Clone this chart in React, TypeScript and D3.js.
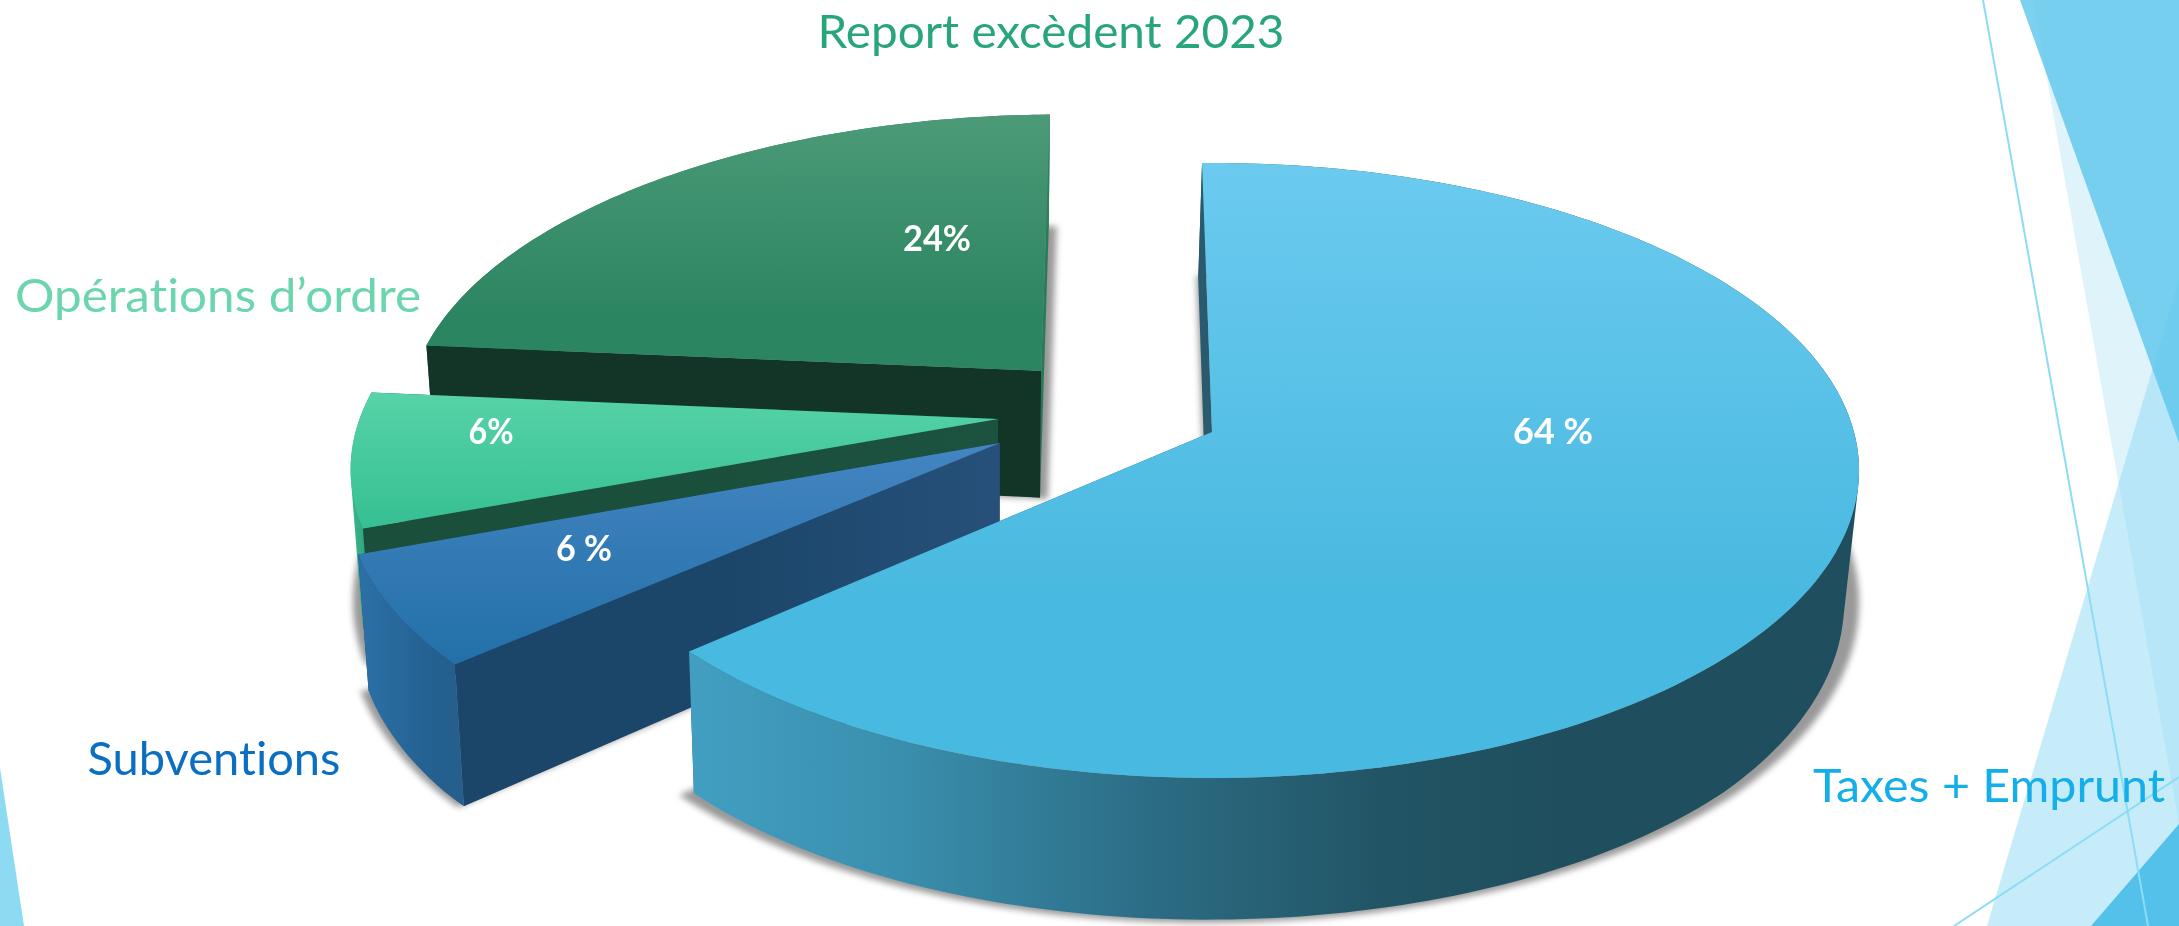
import * as d3 from "d3";

const categories = ["Taxes + Emprunt", "Subventions", "Opérations d’ordre", "Report excèdent 2023"];
const shares = [63.7, 5.9, 7.1, 23.3];
const valueLabels = ["64 %", "6 %", "6%", "24%"];

const width = 2179;
const height = 926;

// perspective of the pie plane
const origin = { x: 1212, y: 432 };
const radiusX = 642;
const radiusY = 302.7;
const persp = 0.125;
const depth = 130;
const shrink = 0.017;
const lowShift = -4;
const startDeg = -1;

// how far each slice is pulled out, in pie radii
const explode = [
    [0, 0],
    [-0.329, -0.036],
    [-0.335, 0.043],
    [-0.273, 0.207],
];

const topColors = [
    ["#6ccaef", "#48b9e0", 163, 600],
    ["#4485c2", "#2370a8", 443, 663],
    ["#56d3a7", "#35bf92", 394, 530],
    ["#4c9a78", "#2b8560", 114, 320],
] as const;
const wallStops = [0, 0.178, 0.39, 0.6, 0.78];
const wallColors = [
    ["#429fc2", "#3a8fae", "#2c6d85", "#215464", "#1f4e5e"],
    ["#2b70a6", "#2a6da2", "#28689a", "#256294", "#245f8d"],
    ["#38b88e", "#35b088", "#33a983", "#31a580", "#30a27e"],
    ["#2f7f5f", "#2f7f5f", "#2f7f5f", "#2f7f5f", "#2f7f5f"],
];
const sideColors = ["#2a5a6e", "#1b4669", "#1a4f3c", "#123527"];
const sideEndColors = ["#2a5a6e", "#27507a", "#1c5240", "#123527"];
const endWallColors = ["#1d5366", "#1b4669", "#1a4f3c", "#2a7a5a"];
const textColors = ["#14aee8", "#0a6fc2", "#6bd6ad", "#28a57c"];

const nameLayout = [
    { x: 1989, y: 802, w: 352, size: 47 },
    { x: 214, y: 775, w: 253, size: 47 },
    { x: 218, y: 312, w: 406, size: 47 },
    { x: 1051, y: 48, w: 467, size: 46 },
];
const valueLayout = [
    { x: 1553, y: 444, w: 80 },
    { x: 584, y: 561, w: 56 },
    { x: 491, y: 444, w: 45 },
    { x: 937, y: 251, w: 68 },
];

const pie = d3
    .pie<number>()
    .sort(null)
    .startAngle((startDeg * Math.PI) / 180)
    .endAngle((startDeg * Math.PI) / 180 + 2 * Math.PI);

type P = [number, number];

function project(u: number, v: number) {
    const s = 1 / (1 + persp * v);
    return { x: origin.x + radiusX * u * s, y: origin.y - radiusY * v * s, s };
}

function top(i: number, angle: number, r = 1): P {
    const [ex, ey] = explode[i];
    const p = project(ex + r * Math.sin(angle), ey + r * Math.cos(angle));
    return [p.x, p.y];
}

function bottom(i: number, angle: number, r = 1): P {
    const [ex, ey] = explode[i];
    const p = project(ex + r * Math.sin(angle), ey + r * Math.cos(angle));
    return [p.x - (p.x - origin.x) * shrink + lowShift, p.y + depth * Math.min(p.s, 1.09)];
}

const line = d3.line<P>();
const closed = (pts: P[]) => line(pts) + "Z";

function arcAngles(a: number, b: number) {
    const n = Math.ceil(Math.abs(b - a) / 0.02);
    const t = d3.scaleLinear().domain([0, n]).range([a, b]);
    return d3.range(n + 1).map((k) => t(k));
}

// the rim wall as strips, so the silhouette stays right where the two rims cross
function wallStrips(a: P[], b: P[]) {
    return d3
        .range(a.length - 1)
        .map((k) => {
            const quad: P[] = [a[k], a[k + 1], b[k + 1], b[k]];
            return closed(d3.polygonArea(quad) < 0 ? quad.reverse() : quad);
        })
        .join("");
}

export default function App() {
    const arcs = pie(shares);
    const order = [3, 2, 1, 0]; // back to front

    const faces = arcs.map((d, i) => {
        const angles = arcAngles(d.startAngle, d.endAngle);
        const topRim = angles.map((a) => top(i, a));
        const lowRim = angles.map((a) => bottom(i, a));
        const apex = top(i, 0, 0);
        const apexLow = bottom(i, 0, 0);
        const xs = d3.extent([...lowRim, apexLow], (p) => p[0]) as P;
        const ys = d3.extent([...lowRim, apexLow], (p) => p[1]) as P;
        return {
            face: closed([apex, ...topRim]),
            low: closed([apexLow, ...lowRim]),
            outer: wallStrips(topRim, lowRim),
            startWall: closed([apex, topRim[0], lowRim[0], apexLow]),
            endWall: closed([apex, topRim[topRim.length - 1], lowRim[lowRim.length - 1], apexLow]),
            box: [(xs[0] + xs[1]) / 2, (ys[0] + ys[1]) / 2],
        };
    });

    return (
        <svg
            width={width}
            height={height}
            viewBox={`0 0 ${width} ${height}`}
            style={{ position: "fixed", left: 0, top: 0, display: "block", background: "#fff" }}
        >
            <defs>
                <filter id="soft" x="-10%" y="-10%" width="120%" height="120%">
                    <feGaussianBlur stdDeviation="3" />
                </filter>
                {categories.map((_, i) => (
                    <g key={i}>
                        <linearGradient
                            id={`top${i}`}
                            gradientUnits="userSpaceOnUse"
                            x1="0"
                            x2="0"
                            y1={topColors[i][2]}
                            y2={topColors[i][3]}
                        >
                            <stop offset="0" stopColor={topColors[i][0]} />
                            <stop offset="1" stopColor={topColors[i][1]} />
                        </linearGradient>
                        <linearGradient
                            id={`wall${i}`}
                            gradientUnits="objectBoundingBox"
                            x1="0"
                            x2="1"
                            y1="0"
                            y2="0"
                        >
                            {wallColors[i].map((c, k) => (
                                <stop key={k} offset={wallStops[k]} stopColor={c} />
                            ))}
                        </linearGradient>
                        <linearGradient id={`side${i}`} gradientUnits="objectBoundingBox" x1="0" x2="1" y1="0" y2="0">
                            <stop offset="0.5" stopColor={sideColors[i]} />
                            <stop offset="1" stopColor={sideEndColors[i]} />
                        </linearGradient>
                    </g>
                ))}
            </defs>

            {/* slide decoration */}
            <g>
                <polygon points="0,768 24,926 0,926" fill="#8ddaf3" />
                <polygon points="2033,0 2179,0 2179,824" fill="#dff3fa" />
                <polygon points="1987,926 2179,280 2179,926" fill="#8ed9f3" fillOpacity="0.5" />
                <polygon points="2020,0 2179,0 2179,443" fill="#5cc5ec" fillOpacity="0.8" />
                <polygon points="2091,926 2179,824 2179,926" fill="#53c1ea" />
                <line x1="1983" y1="0" x2="2148" y2="926" stroke="#8ddcf5" strokeWidth="2" />
                <line x1="1954" y1="926" x2="2179" y2="777" stroke="#8ddcf5" strokeWidth="2" />
            </g>

            {/* shadows under the lower faces */}
            <g filter="url(#soft)">
                {order.map((i) => {
                    const [cx, cy] = faces[i].box;
                    return (
                        <path
                            key={i}
                            d={faces[i].low}
                            fill="#000"
                            fillOpacity="0.4"
                            transform={`translate(${cx},${cy}) scale(1.026,1.01) translate(${-cx},${-cy})`}
                        />
                    );
                })}
            </g>

            {order.map((i) => (
                <g key={i}>
                    <path d={faces[i].endWall} fill={endWallColors[i]} />
                    <path d={faces[i].outer} fill={`url(#wall${i})`} />
                    <path d={faces[i].startWall} fill={`url(#side${i})`} />
                    <path d={faces[i].face} fill={`url(#top${i})`} />
                </g>
            ))}

            <g style={{ fontFamily: "Lato, sans-serif", fontVariantLigatures: "none" }}>
                {categories.map((name, i) => (
                    <text
                        key={name}
                        x={nameLayout[i].x}
                        y={nameLayout[i].y}
                        fontSize={nameLayout[i].size}
                        fill={textColors[i]}
                        textAnchor="middle"
                        textLength={nameLayout[i].w}
                        lengthAdjust="spacingAndGlyphs"
                    >
                        {name}
                    </text>
                ))}
                {valueLabels.map((label, i) => (
                    <text
                        key={i}
                        x={valueLayout[i].x}
                        y={valueLayout[i].y}
                        fontSize="37"
                        fontWeight="700"
                        fill="#fff"
                        textAnchor="middle"
                        textLength={valueLayout[i].w}
                        lengthAdjust="spacingAndGlyphs"
                    >
                        {label}
                    </text>
                ))}
            </g>
        </svg>
    );
}
